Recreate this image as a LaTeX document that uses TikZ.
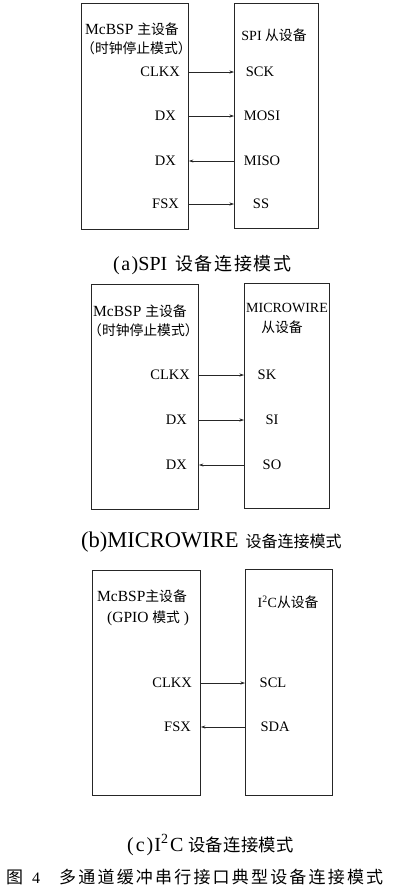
\documentclass[tikz,border=0pt]{standalone}
\usepackage{fontspec}
\setmainfont{Liberation Serif}
\newfontfamily\cjk{Noto Sans CJK SC}
\usetikzlibrary{arrows.meta}
\makeatletter
\newcommand{\spread}[2]{\makebox[#1][s]{\@tfor\x:=#2\do{\x\hfil}\unskip}}
\makeatother
\tikzset{
  box/.style={draw=black!85, line width=0.8pt, anchor=north west, inner sep=0pt},
  pin/.style={font=\fontsize{14.5}{16}\selectfont, inner sep=0pt, text=black},
  lbl/.style={font=\fontsize{15.5}{17}\selectfont, inner sep=0pt, text=black},
  lbls/.style={font=\fontsize{14}{17}\selectfont, inner sep=0pt, text=black},
  sig/.style={line width=0.6pt, draw=black!85, -{Stealth[length=4.5pt,width=3pt]}},
  captxt/.style={inner sep=0pt, text=black, anchor=west},
}
\newcommand{\lc}[1]{{\fontsize{13.8}{17}\cjk #1}}
\begin{document}
\begin{tikzpicture}[x=1pt,y=1pt]
\useasboundingbox[fill=white] (0,0) rectangle (400,-894);

% ---------- (a) SPI ----------
\node[box, minimum width=107pt, minimum height=226pt] (A1) at (81,-3) {};
\node[box, minimum width=84pt, minimum height=225pt] (B1) at (234,-3) {};
\node[lbl, anchor=west] (A1t1) at (85,-29) {McBSP \lc{主设备}};
\node[lbl, anchor=west] (A1t2) at (81,-48) {\lc{（时钟停止模式）}};
\node[lbls] (B1t) at (274,-35) {SPI \lc{从设备}};
\node[pin, anchor=east] (a1) at (180,-72) {CLKX};
\node[pin, anchor=east] (a2) at (176,-116) {DX};
\node[pin, anchor=east] (a3) at (176,-161) {DX};
\node[pin, anchor=east] (a4) at (179,-204) {FSX};
\node[pin] (s1) at (260,-72) {SCK};
\node[pin] (s2) at (262,-116) {MOSI};
\node[pin] (s3) at (262,-161) {MISO};
\node[pin] (s4) at (261,-204) {SS};
\draw[sig] (A1.east |- a1) -- (B1.west |- a1);
\draw[sig] (A1.east |- a2) -- (B1.west |- a2);
\draw[sig] (B1.west |- a3) -- (A1.east |- a3);
\draw[sig] (A1.east |- a4) -- (B1.west |- a4);
\node[captxt] (capa) at (113,-265) {\fontsize{20}{22}\selectfont (\hspace{1.5pt}a\hspace{1.5pt})SPI\hspace{8pt}{\fontsize{18}{22}\cjk\spread{116pt}{设备连接模式}}};

% ---------- (b) MICROWIRE ----------
\node[box, minimum width=107pt, minimum height=225pt] (A2) at (91,-284) {};
\node[box, minimum width=85pt, minimum height=225pt] (B2) at (244,-283) {};
\node[lbl, anchor=west] (A2t1) at (93,-311) {McBSP \lc{主设备}};
\node[lbl, anchor=west] (A2t2) at (88,-330) {\lc{（时钟停止模式）}};
\node[lbls] (B2t1) at (287,-308) {MICROWIRE};
\node[lbls] (B2t2) at (282,-327) {\lc{从设备}};
\node[pin, anchor=east] (b1) at (190,-375) {CLKX};
\node[pin, anchor=east] (b2) at (187,-420) {DX};
\node[pin, anchor=east] (b3) at (187,-465) {DX};
\node[pin] (m1) at (267,-375) {SK};
\node[pin] (m2) at (272,-420) {SI};
\node[pin] (m3) at (272,-465) {SO};
\draw[sig] (A2.east |- b1) -- (B2.west |- b1);
\draw[sig] (A2.east |- b2) -- (B2.west |- b2);
\draw[sig] (B2.west |- b3) -- (A2.east |- b3);
\node[captxt] (capb) at (81,-542) {\fontsize{22.5}{25}\selectfont (b)MICROWIRE\hspace{7pt}{\fontsize{16}{20}\cjk\spread{96pt}{设备连接模式}}};

% ---------- (c) I2C ----------
\node[box, minimum width=108pt, minimum height=225pt] (A3) at (92,-570) {};
\node[box, minimum width=87pt, minimum height=226pt] (B3) at (245,-569) {};
\node[lbl, anchor=west] (A3t1) at (97,-596) {McBSP\lc{主设备}};
\node[lbl, anchor=west] (A3t2) at (107,-618) {(GPIO \lc{模式} )};
\node[lbls] (B3t) at (288,-602) {I\textsuperscript{2}C\lc{从设备}};
\node[pin, anchor=east] (c1) at (192,-683) {CLKX};
\node[pin, anchor=east] (c2) at (191,-727) {FSX};
\node[pin] (i1) at (273,-683) {SCL};
\node[pin] (i2) at (275,-727) {SDA};
\draw[sig] (A3.east |- c1) -- (B3.west |- c1);
\draw[sig] (B3.west |- c2) -- (A3.east |- c2);
\node[captxt] (capc) at (127,-845) {\fontsize{20}{22}\selectfont (\hspace{2pt}c\hspace{2pt})\hspace{1pt}I\textsuperscript{2}\hspace{1.5pt}C\hspace{5pt}{\fontsize{17.3}{20}\cjk\spread{105pt}{设备连接模式}}};

% ---------- figure caption ----------
\node[captxt] (fig) at (6,-877) {\fontsize{17}{20}\selectfont\makebox[53pt][l]{{\cjk 图}\hspace{9pt}{\fontsize{16}{20}\selectfont 4}}{\cjk\spread{324pt}{多通道缓冲串行接口典型设备连接模式}}};
\end{tikzpicture}
\end{document}
